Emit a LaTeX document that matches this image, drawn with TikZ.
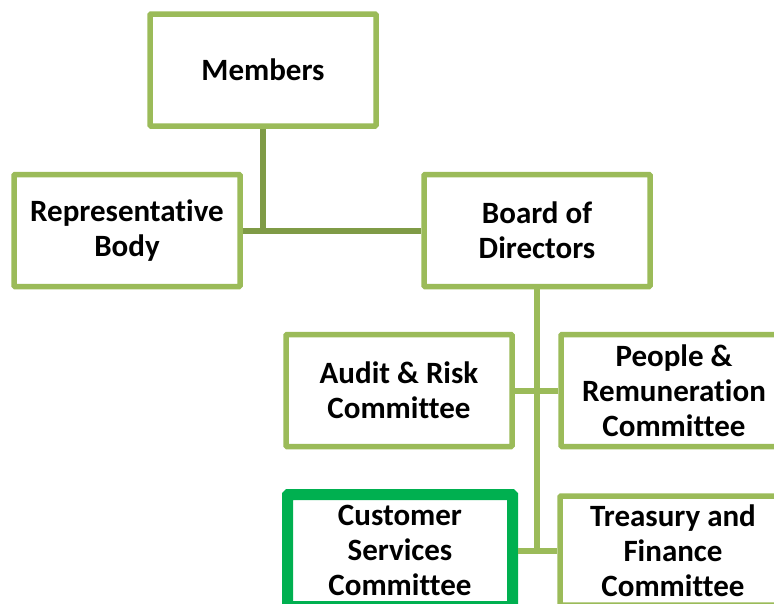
\documentclass[tikz,border=0pt]{standalone}
\usepackage{fontspec}
\setmainfont{Carlito}[Ligatures=NoCommon]
\definecolor{boxgreen}{HTML}{9BBB59}
\definecolor{linkdark}{HTML}{7F9B46}
\definecolor{focusgreen}{HTML}{00B050}

\begin{document}
\begin{tikzpicture}[x=1pt, y=-1pt]
        \tikzstyle{box}=[draw=boxgreen,line width=5.5pt,fill=white,minimum width=226pt,minimum height=112pt,inner sep=0pt,align=center,rounded corners=1pt,font=\fontsize{31}{35}\selectfont\bfseries]
        \tikzstyle{focus}=[box,draw=focusgreen,line width=11pt,minimum width=225pt]
        \tikzstyle{link}=[draw=boxgreen,line width=6pt]

        \path[use as bounding box,clip] (0,0) rectangle (774,603);

        \node[box] (Members)  at (263,70)    {Members};
        \node[box] (Rep)      at (127,230.5) {Representative\\Body};
        \node[box] (Board)    at (537,230.5) {Board of\\Directors};
        \node[box] (Audit)    at (399,390.5) {Audit \& Risk\\Committee};
        \node[box] (People)   at (674,390.5) {People \&\\Remuneration\\Committee};
        \node[focus] (Customer) at (400,550.5) {Customer\\Services\\Committee};
        \node[box,minimum height=109pt] (Treasury) at (673,550.5) {Treasury and\\Finance\\Committee};

        % members and board
        \draw[link,draw=linkdark] (Members.south) -- (Members.south |- Rep.east);
        \draw[link,draw=linkdark] (Rep.east) -- (Board.west);
        % committees
        \draw[link] (Board.south) -- (Board.south |- Customer.east);
        \draw[link] (Audit.east) -- (People.west);
        \draw[link] (Customer.east) -- (Treasury.west);
\end{tikzpicture}
\end{document}
